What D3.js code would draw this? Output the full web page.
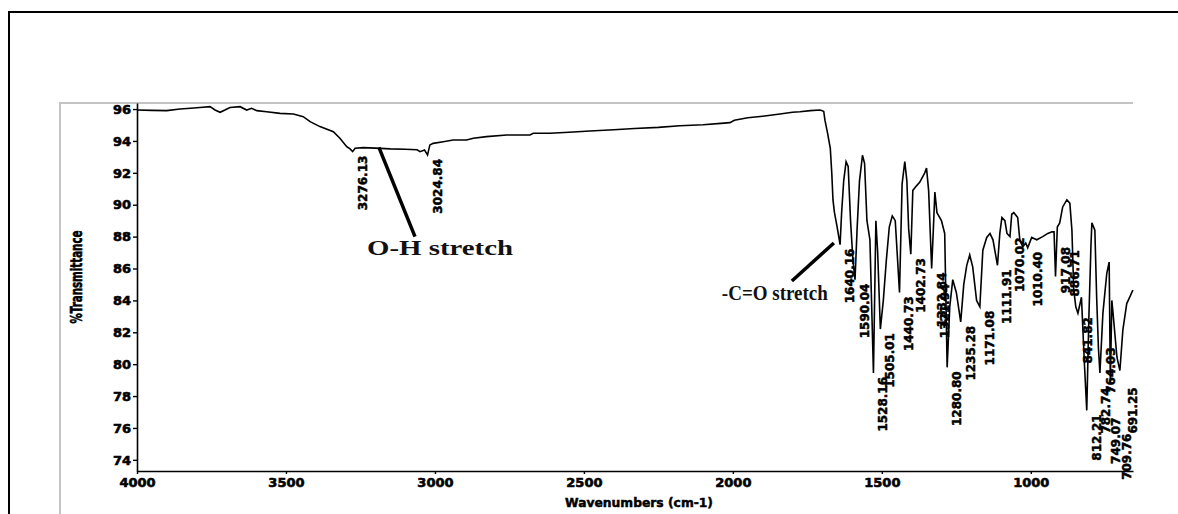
<!DOCTYPE html>
<html><head><meta charset="utf-8">
<script src="https://cdn.jsdelivr.net/npm/d3@7"></script>
<style>html,body{margin:0;padding:0;background:#fff;} svg{display:block;}</style>
</head><body><svg id="chart" width="1178" height="514"></svg>
<script>
// ---------- data ----------
const wavenumbers = [4000,3950,3900,3856,3820,3789,3755,3738,3721,3705,3688,3654,3632,3615,3598,3565,3520,3475,3442,3419,3386,3341,3319,3296,3285,3276.13,3268,3240,3200,3150,3100,3060,3050,3035,3024.84,3017,3006,2972,2939,2894,2871,2827,2759,2681,2670,2614,2550,2480,2400,2330,2250,2178,2100,2040,2010,1995,1950,1900,1842,1800,1775,1740,1708,1700,1695,1691,1682,1673,1668,1664,1659,1650,1640.16,1635,1628,1620,1613,1605,1597,1590.04,1583,1575,1565,1558,1550,1540,1528.16,1520,1514,1505.01,1495,1485,1475,1465,1455,1440.73,1432,1423,1416,1410,1402.73,1396,1383,1373,1356,1350,1343,1332.84,1327,1322,1315,1300,1289,1280.80,1272,1262,1250,1235.28,1225,1215,1205,1195,1182,1171.08,1161,1148,1137,1127,1111.91,1104,1097,1087,1080,1070.02,1064,1057,1044,1037,1027,1017,1010.40,997,980,960,943,929,922,917.08,911,903,893,879,869,862,856,849,841.82,830,820,812.21,805,798,795,785,779,773,768,758,745,737,733,728,724,711,701,691,678,668,661,657];
const transmittance = [95.94,95.92,95.90,96.00,96.05,96.10,96.15,95.94,95.80,95.94,96.10,96.15,95.94,96.05,95.90,95.83,95.73,95.69,95.52,95.21,94.90,94.58,94.17,93.64,93.50,93.33,93.54,93.58,93.55,93.50,93.48,93.45,93.33,93.43,93.12,93.75,93.85,93.95,94.06,94.06,94.17,94.27,94.37,94.37,94.48,94.48,94.55,94.62,94.70,94.78,94.85,94.95,95.02,95.10,95.15,95.30,95.45,95.55,95.69,95.80,95.83,95.90,95.94,95.90,95.85,95.30,94.48,93.54,91.97,90.30,89.50,88.60,87.50,89.50,91.50,92.70,92.40,89.00,86.50,85.30,88.50,91.50,93.10,92.60,89.00,87.80,79.45,89.00,87.00,82.20,84.00,86.50,88.60,89.30,89.00,84.50,91.30,92.70,91.50,88.50,86.90,90.90,91.20,91.40,92.00,92.30,90.90,86.00,88.50,90.80,89.50,89.00,88.20,79.80,83.60,85.30,84.50,82.65,85.00,86.20,86.85,86.10,84.00,83.60,87.15,87.95,88.20,87.80,86.20,88.20,89.20,89.00,88.20,88.00,89.40,89.50,89.20,87.80,87.35,87.60,87.30,87.95,87.80,88.00,88.20,88.30,88.30,85.50,88.60,88.86,89.86,90.30,90.10,88.40,84.70,83.60,83.20,84.20,80.00,77.10,83.00,87.50,88.86,88.40,84.20,81.00,79.45,83.20,85.70,86.40,78.80,84.00,83.20,80.45,79.60,82.15,83.80,84.20,84.50,84.65];

const peakNames = ["3276.13","3024.84","1640.16","1590.04","1528.16","1505.01","1440.73","1402.73","1332.84","1321.94","1280.80","1235.28","1171.08","1111.91","1070.02","1010.40","917.08","886.71","841.82","812.21","782.74","764.03","749.07","709.76","691.25"];
const peakWavenumbers = [3276.13,3024.84,1640.16,1590.04,1528.16,1505.01,1440.73,1402.73,1332.84,1321.94,1280.80,1235.28,1171.08,1111.91,1070.02,1010.40,917.08,886.71,841.82,812.21,782.74,764.03,749.07,709.76,691.25];
const peakValues = [93.33,93.12,87.50,85.30,79.45,82.20,84.50,86.90,86.00,85.30,79.80,82.65,83.60,86.20,88.20,87.30,87.60,87.40,83.20,77.10,78.80,81.30,76.90,75.90,78.80];

const xTickValues = [4000,3500,3000,2500,2000,1500,1000];
const yTickValues = [74,76,78,80,82,84,86,88,90,92,94,96];
const xTitle = "Wavenumbers (cm-1)";
const yTitle = "%Transmittance";
const annotationTexts = ["O-H stretch","-C=O stretch"];

// ---------- drawing ----------
const svg = d3.select("#chart");
svg.append("rect").attr("width",1178).attr("height",514).attr("fill","#fff");

svg.append("rect").attr("x",9).attr("y",12).attr("width",1200).attr("height",600)
  .attr("fill","none").attr("stroke","#000").attr("stroke-width",2);
svg.append("path").attr("d","M60,520 L60,103 L1133,103")
  .attr("fill","none").attr("stroke","#c4c4c4").attr("stroke-width",2);

const x = d3.scaleLinear().domain([4000,657]).range([137,1133]);
const y = d3.scaleLinear().domain([73.3,96.38]).range([471,103]);

const tickFont = "'DejaVu Sans', sans-serif";

const gx = svg.append("g").attr("transform","translate(0,471)")
  .call(d3.axisBottom(x).tickValues(xTickValues).tickSize(3).tickSizeOuter(0).tickPadding(4).tickFormat(d3.format("d")));
const gy = svg.append("g").attr("transform","translate(137,0)")
  .call(d3.axisLeft(y).tickValues(yTickValues).tickSize(4).tickSizeOuter(0).tickPadding(2).tickFormat(d3.format("d")));
[gx,gy].forEach(g=>{
  g.select(".domain").attr("stroke","#000").attr("stroke-width",1.6);
  g.selectAll(".tick line").attr("stroke","#000").attr("stroke-width",1.4);
  g.selectAll(".tick text").attr("fill","#000").attr("stroke","#000").attr("stroke-width",0.6)
   .style("font-family",tickFont).style("font-weight","bold").style("font-size","13px");
});

svg.append("text").attr("x",565).attr("y",507).text(xTitle)
  .attr("stroke","#000").attr("stroke-width",0.5)
  .style("font-family",tickFont).style("font-weight","bold").style("font-size","13px")
  .attr("textLength",148).attr("lengthAdjust","spacingAndGlyphs");
svg.append("text").attr("transform","translate(82,277) rotate(-90)").attr("text-anchor","middle").text(yTitle)
  .attr("stroke","#000").attr("stroke-width",0.6)
  .style("font-family",tickFont).style("font-weight","bold").style("font-size","16px")
  .attr("textLength",93).attr("lengthAdjust","spacingAndGlyphs");

const pts = wavenumbers.map((w,i)=>[w,transmittance[i]]);
svg.append("path").datum(pts)
  .attr("d",d3.line().x(d=>x(d[0])).y(d=>y(d[1])))
  .attr("fill","none").attr("stroke","#000").attr("stroke-width",1.6).attr("stroke-linejoin","miter");

const peaks = peakNames.map((n,i)=>({name:n,w:peakWavenumbers[i],t:peakValues[i]}));
svg.append("g").selectAll("text").data(peaks).join("text")
  .attr("transform",d=>`translate(${x(d.w)+14},${y(d.t)+4}) rotate(-90)`)
  .attr("text-anchor","end").text(d=>d.name)
  .attr("fill","#000").attr("stroke","#000").attr("stroke-width",0.5)
  .style("font-family",tickFont).style("font-weight","bold").style("font-size","12px");

svg.append("line").attr("x1",x(3188)).attr("y1",y(93.6)).attr("x2",x(3067)).attr("y2",y(88.0))
  .attr("stroke","#000").attr("stroke-width",3.5);
svg.append("text").attr("x",x(3228)).attr("y",y(86.85)).text(annotationTexts[0])
  .attr("fill","#111")
  .style("font-family","'Liberation Serif', serif").style("font-weight","bold").style("font-size","21px")
  .attr("textLength",146).attr("lengthAdjust","spacingAndGlyphs");
svg.append("line").attr("x1",x(1802)).attr("y1",y(85.22)).attr("x2",x(1661)).attr("y2",y(87.6))
  .attr("stroke","#000").attr("stroke-width",3.5);
svg.append("text").attr("x",x(2037)).attr("y",y(84.03)).text(annotationTexts[1])
  .attr("fill","#111")
  .style("font-family","'Liberation Serif', serif").style("font-weight","bold").style("font-size","20px")
  .attr("textLength",106).attr("lengthAdjust","spacingAndGlyphs");
</script></body></html>
